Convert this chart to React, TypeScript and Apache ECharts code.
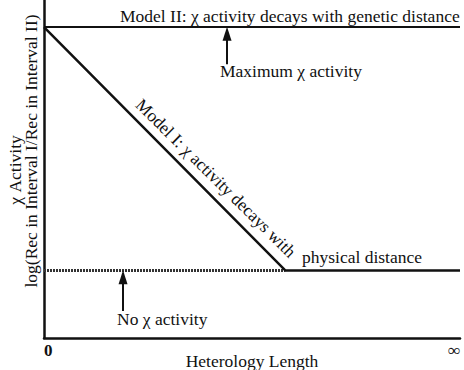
import React, { useEffect, useRef } from "react";
import * as echarts from "echarts";

const xRange = [0, 100];
const yRange = [0, 100];
const xTickLabels = ["0", "∞"];
const modelII = [[0, 92], [100, 92]];
const modelI = [[0, 92], [58, 20], [100, 20]];
const noActivity = [[0, 20], [58, 20]];
const maxArrow = [[44, 81], [44, 90]];
const noArrow = [[19, 8], [19, 18]];

const FONT = '"Liberation Serif", "Times New Roman", serif';

export default function App() {
  const ref = useRef<HTMLDivElement>(null);
  useEffect(() => {
    const chart = echarts.init(ref.current!, null, { renderer: "svg" });
    const txt = (x: number, y: number, text: string, extra: any = {}) => ({
      type: "text",
      x,
      y,
      silent: true,
      ...extra,
      style: {
        text,
        fontFamily: FONT,
        fontSize: 17.5,
        fill: "#111",
        align: "left",
        verticalAlign: "middle",
        ...(extra.style || {}),
      },
    });
    chart.setOption({
      animation: false,
      grid: { left: 44, right: 4, top: 0, bottom: 32, outerBoundsMode: "none", containLabel: false },
      xAxis: {
        type: "value",
        min: xRange[0],
        max: xRange[1],
        interval: 100,
        splitLine: { show: false },
        axisTick: { show: false },
        axisLine: { show: true, lineStyle: { color: "#111", width: 2.5 } },
        axisLabel: {
          show: true,
          margin: 4,
          color: "#111",
          fontFamily: FONT,
          fontSize: 17,
          fontWeight: "bold",
          alignMinLabel: "left",
          alignMaxLabel: "right",
          formatter: (v: number) => (v === xRange[0] ? xTickLabels[0] : xTickLabels[1]),
        },
      },
      yAxis: {
        type: "value",
        min: yRange[0],
        max: yRange[1],
        splitLine: { show: false },
        axisTick: { show: false },
        axisLabel: { show: false },
        axisLine: { show: true, onZero: false, lineStyle: { color: "#111", width: 2.5 } },
      },
      series: [
        {
          type: "line",
          data: modelII,
          symbol: "none",
          lineStyle: { color: "#111", width: 2 },
          silent: true,
        },
        {
          type: "line",
          data: noActivity,
          symbol: "none",
          lineStyle: { color: "#333", width: 3, type: [2, 1] },
          silent: true,
        },
        {
          type: "line",
          data: modelI,
          symbol: "none",
          lineStyle: { color: "#111", width: 2.5 },
          silent: true,
          markLine: {
            silent: true,
            symbol: ["none", "triangle"],
            symbolSize: [9, 14],
            label: { show: false },
            lineStyle: { color: "#111", width: 2, type: "solid" },
            data: [
              [{ coord: maxArrow[0] }, { coord: maxArrow[1] }],
              [{ coord: noArrow[0] }, { coord: noArrow[1] }],
            ],
          },
        },
      ],
      graphic: [
        txt(120, 16, "Model II: χ activity decays with genetic distance"),
        txt(220, 71, "Maximum χ activity"),
        txt(302, 257, "physical distance"),
        txt(117, 319, "No χ activity"),
        txt(216, 178, "Model I: χ activity decays with", {
          rotation: -0.78,
          style: { align: "center" },
        }),
        txt(252, 361, "Heterology Length", { style: { align: "center" } }),
        txt(15, 170, "χ Activity", {
          rotation: Math.PI / 2,
          style: { align: "center" },
        }),
        txt(31, 151, "log(Rec in Interval I/Rec in Interval II)", {
          rotation: Math.PI / 2,
          style: { align: "center" },
        }),
      ],
    });
    return () => chart.dispose();
  }, []);
  return <div ref={ref} style={{ width: 464, height: 370, position: "absolute", left: 0, top: 0 }} />;
}
